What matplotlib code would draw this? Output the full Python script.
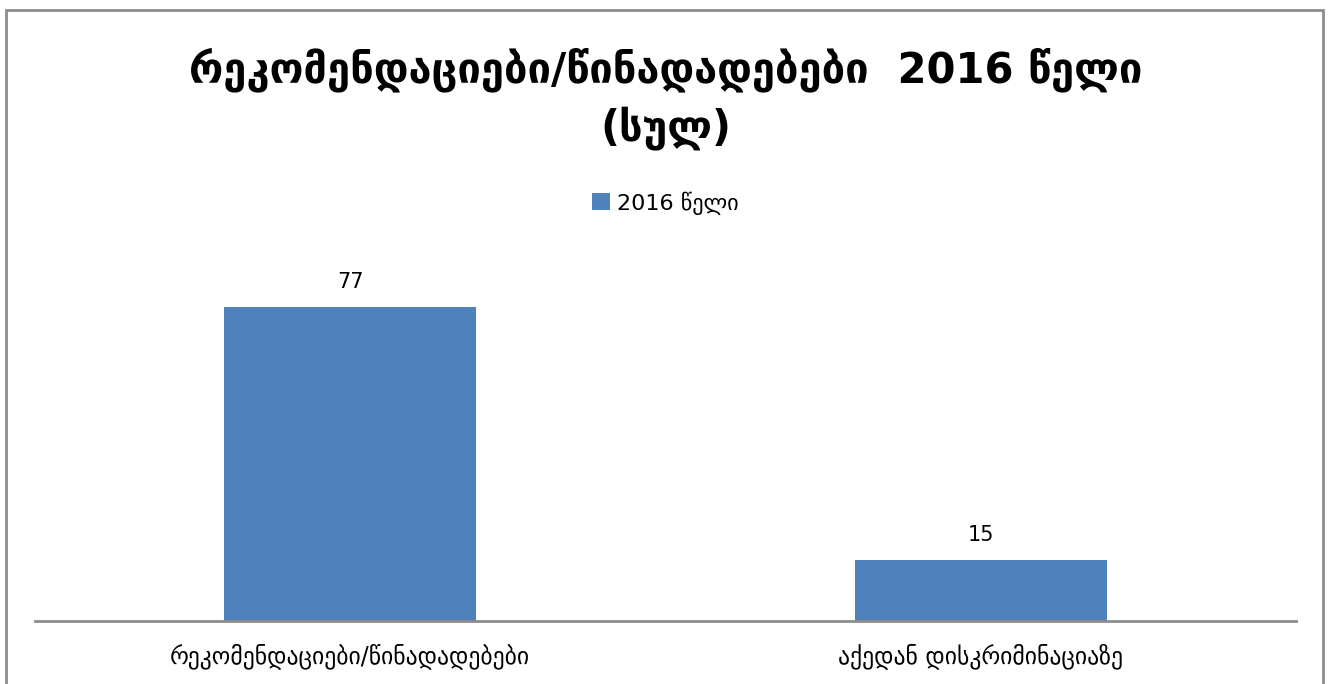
import matplotlib
matplotlib.use("Agg")
import matplotlib.pyplot as plt
from matplotlib.patches import Rectangle

plt.rcParams['font.family'] = ['DejaVu Sans']

categories = ["რეკომენდაციები/წინადადებები", "აქედან დისკრიმინაციაზე"]
values = [77, 15]
series_name = "2016 წელი"
title = "რეკომენდაციები/წინადადებები  2016 წელი\n(სულ)"

W, H = 1331, 684
fig = plt.figure(figsize=(W / 100, H / 100), dpi=100)

# outer border
fig.patches.append(Rectangle((6 / W, -0.05), (1323 - 6) / W, (H - 10) / H + 0.05,
                             transform=fig.transFigure, fill=False,
                             edgecolor='#8c8c8c', linewidth=2))

ax_left, ax_right = 35, 1296
ax_bottom, ax_top = 621, 240
ax = fig.add_axes([ax_left / W, (H - ax_bottom) / H, (ax_right - ax_left) / W,
                   (ax_bottom - ax_top) / H])

bars = ax.bar(range(len(categories)), values, width=0.4, color='#4F81BD',
              label=series_name)
ax.set_xlim(-0.5, len(categories) - 0.5)
ax.set_ylim(0, (ax_bottom - ax_top) / 4.08)

for b, v in zip(bars, values):
    ax.annotate(str(v), (b.get_x() + b.get_width() / 2, v), xytext=(0, 11),
                textcoords='offset points', ha='center', va='bottom', fontsize=15)

ax.set_xticks(range(len(categories)))
ax.set_xticklabels(categories, fontsize=17)
ax.tick_params(axis='x', length=0, pad=16)
ax.set_yticks([])
for s in ['top', 'right', 'left']:
    ax.spines[s].set_visible(False)
ax.spines['bottom'].set_color('#8c8c8c')
ax.spines['bottom'].set_linewidth(2)

fig.text(0.5, 0.855, title, ha='center', va='center', fontsize=30,
         fontweight='bold', linespacing=1.45)

fig.legend(handles=[bars], labels=[series_name], loc='center',
           bbox_to_anchor=(0.5, (H - 203) / H), frameon=False, fontsize=16,
           handlelength=0.8, handleheight=0.8, handletextpad=0.3)

fig.savefig("out.png", dpi=100)
